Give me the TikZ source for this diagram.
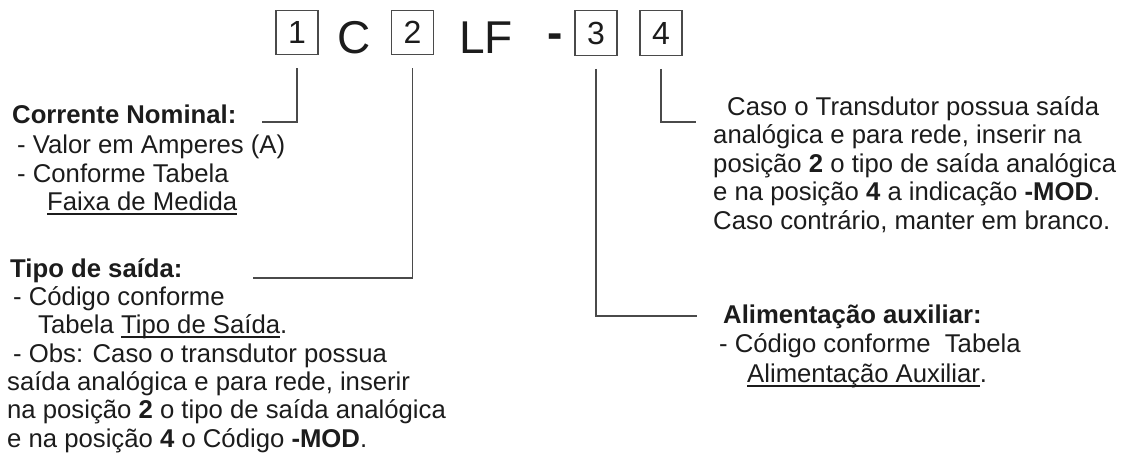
\documentclass[tikz,border=0pt]{standalone}
\usepackage{fontspec}
\setmainfont{Liberation Sans}
\definecolor{ink}{HTML}{1C1C1C}
\definecolor{linec}{HTML}{4A4A4A}
\newcommand\myul[1]{\begingroup\setbox0\hbox{#1}\rlap{\rule[-4.6pt]{\wd0}{1.3pt}}\box0\endgroup}
\begin{document}
\begin{tikzpicture}[x=1pt,y=-1pt,
  txt/.style={anchor=base west, inner sep=0pt, text=ink, font=\fontsize{25.7}{29}\selectfont},
  hd/.style={txt, font=\fontsize{25.7}{29}\selectfont\bfseries},
  digbox/.style={draw=linec, line width=1.3pt, minimum width=42pt, minimum height=44.5pt, inner sep=0pt, text=ink, font=\fontsize{32}{32}\selectfont},
  big/.style={anchor=base, inner sep=0pt, text=ink, font=\fontsize{46}{46}\selectfont},
  leader/.style={draw=linec, line width=1.2pt}]
\useasboundingbox (0,0) rectangle (1123,455);
\fill[white] (0,0) rectangle (1123,455);

% code line
\node[digbox] (b1) at (297,32.5) {1};
\node[big] (cC) at (354,53.5) {C};
\node[digbox] (b2) at (412.5,32.5) {2};
\node[big] (cLF) at (486,53.5) {LF};
\node[big, font=\fontsize{46}{46}\selectfont\bfseries] (cdash) at (555,48.5) {-};
\node[digbox] (b3) at (596,33) {3};
\node[digbox] (b4) at (661,33) {4};

% leader ends
\coordinate (e1) at (262,122);
\coordinate (e2) at (253,278);
\coordinate (e3) at (697,316);
\coordinate (e4) at (696,122);
\draw[leader] ([yshift=-13pt]b1.south) |- (e1);
\draw[leader] ([yshift=-13pt]b2.south) |- (e2);
\draw[leader] ([yshift=-13pt]b3.south) |- (e3);
\draw[leader] ([yshift=-13pt]b4.south) |- (e4);

% block 1
\node[hd]  (t1a) at (12,123) {Corrente Nominal:};
\node[txt] (t1b) at (17,153) {- Valor em Amperes (A)};
\node[txt] (t1c) at (17,182) {- Conforme Tabela};
\node[txt] (t1d) at (47,210) {\myul{Faixa de Medida}};

% block 2
\node[hd]  (t2a) at (10,277) {Tipo de saída:};
\node[txt] (t2b) at (13,305) {- Código conforme};
\node[txt] (t2c) at (38,333) {Tabela \myul{Tipo de Saída}.};
\node[txt] (t2d) at (13,362) {- Obs: Caso o transdutor possua};
\node[txt] (t2e) at (7,390) {saída analógica e para rede, inserir};
\node[txt] (t2f) at (7,418) {na posição \textbf{2} o tipo de saída analógica};
\node[txt] (t2g) at (7,447) {e na posição \textbf{4} o Código \textbf{-MOD}.};

% block 3
\node[txt] (t3a) at (727,115) {Caso o Transdutor possua saída};
\node[txt] (t3b) at (713,143.6) {analógica e para rede, inserir na};
\node[txt] (t3c) at (713,172.2) {posição \textbf{2} o tipo de saída analógica};
\node[txt] (t3d) at (713,200.8) {e na posição \textbf{4} a indicação \textbf{-MOD}.};
\node[txt] (t3e) at (713,229.4) {Caso contrário, manter em branco.};

% block 4
\node[hd]  (t4a) at (723,323) {Alimentação auxiliar:};
\node[txt] (t4b) at (719,352) {- Código conforme\ \ Tabela};
\node[txt] (t4c) at (747,382) {\myul{Alimentação Auxiliar}.};
\end{tikzpicture}
\end{document}
